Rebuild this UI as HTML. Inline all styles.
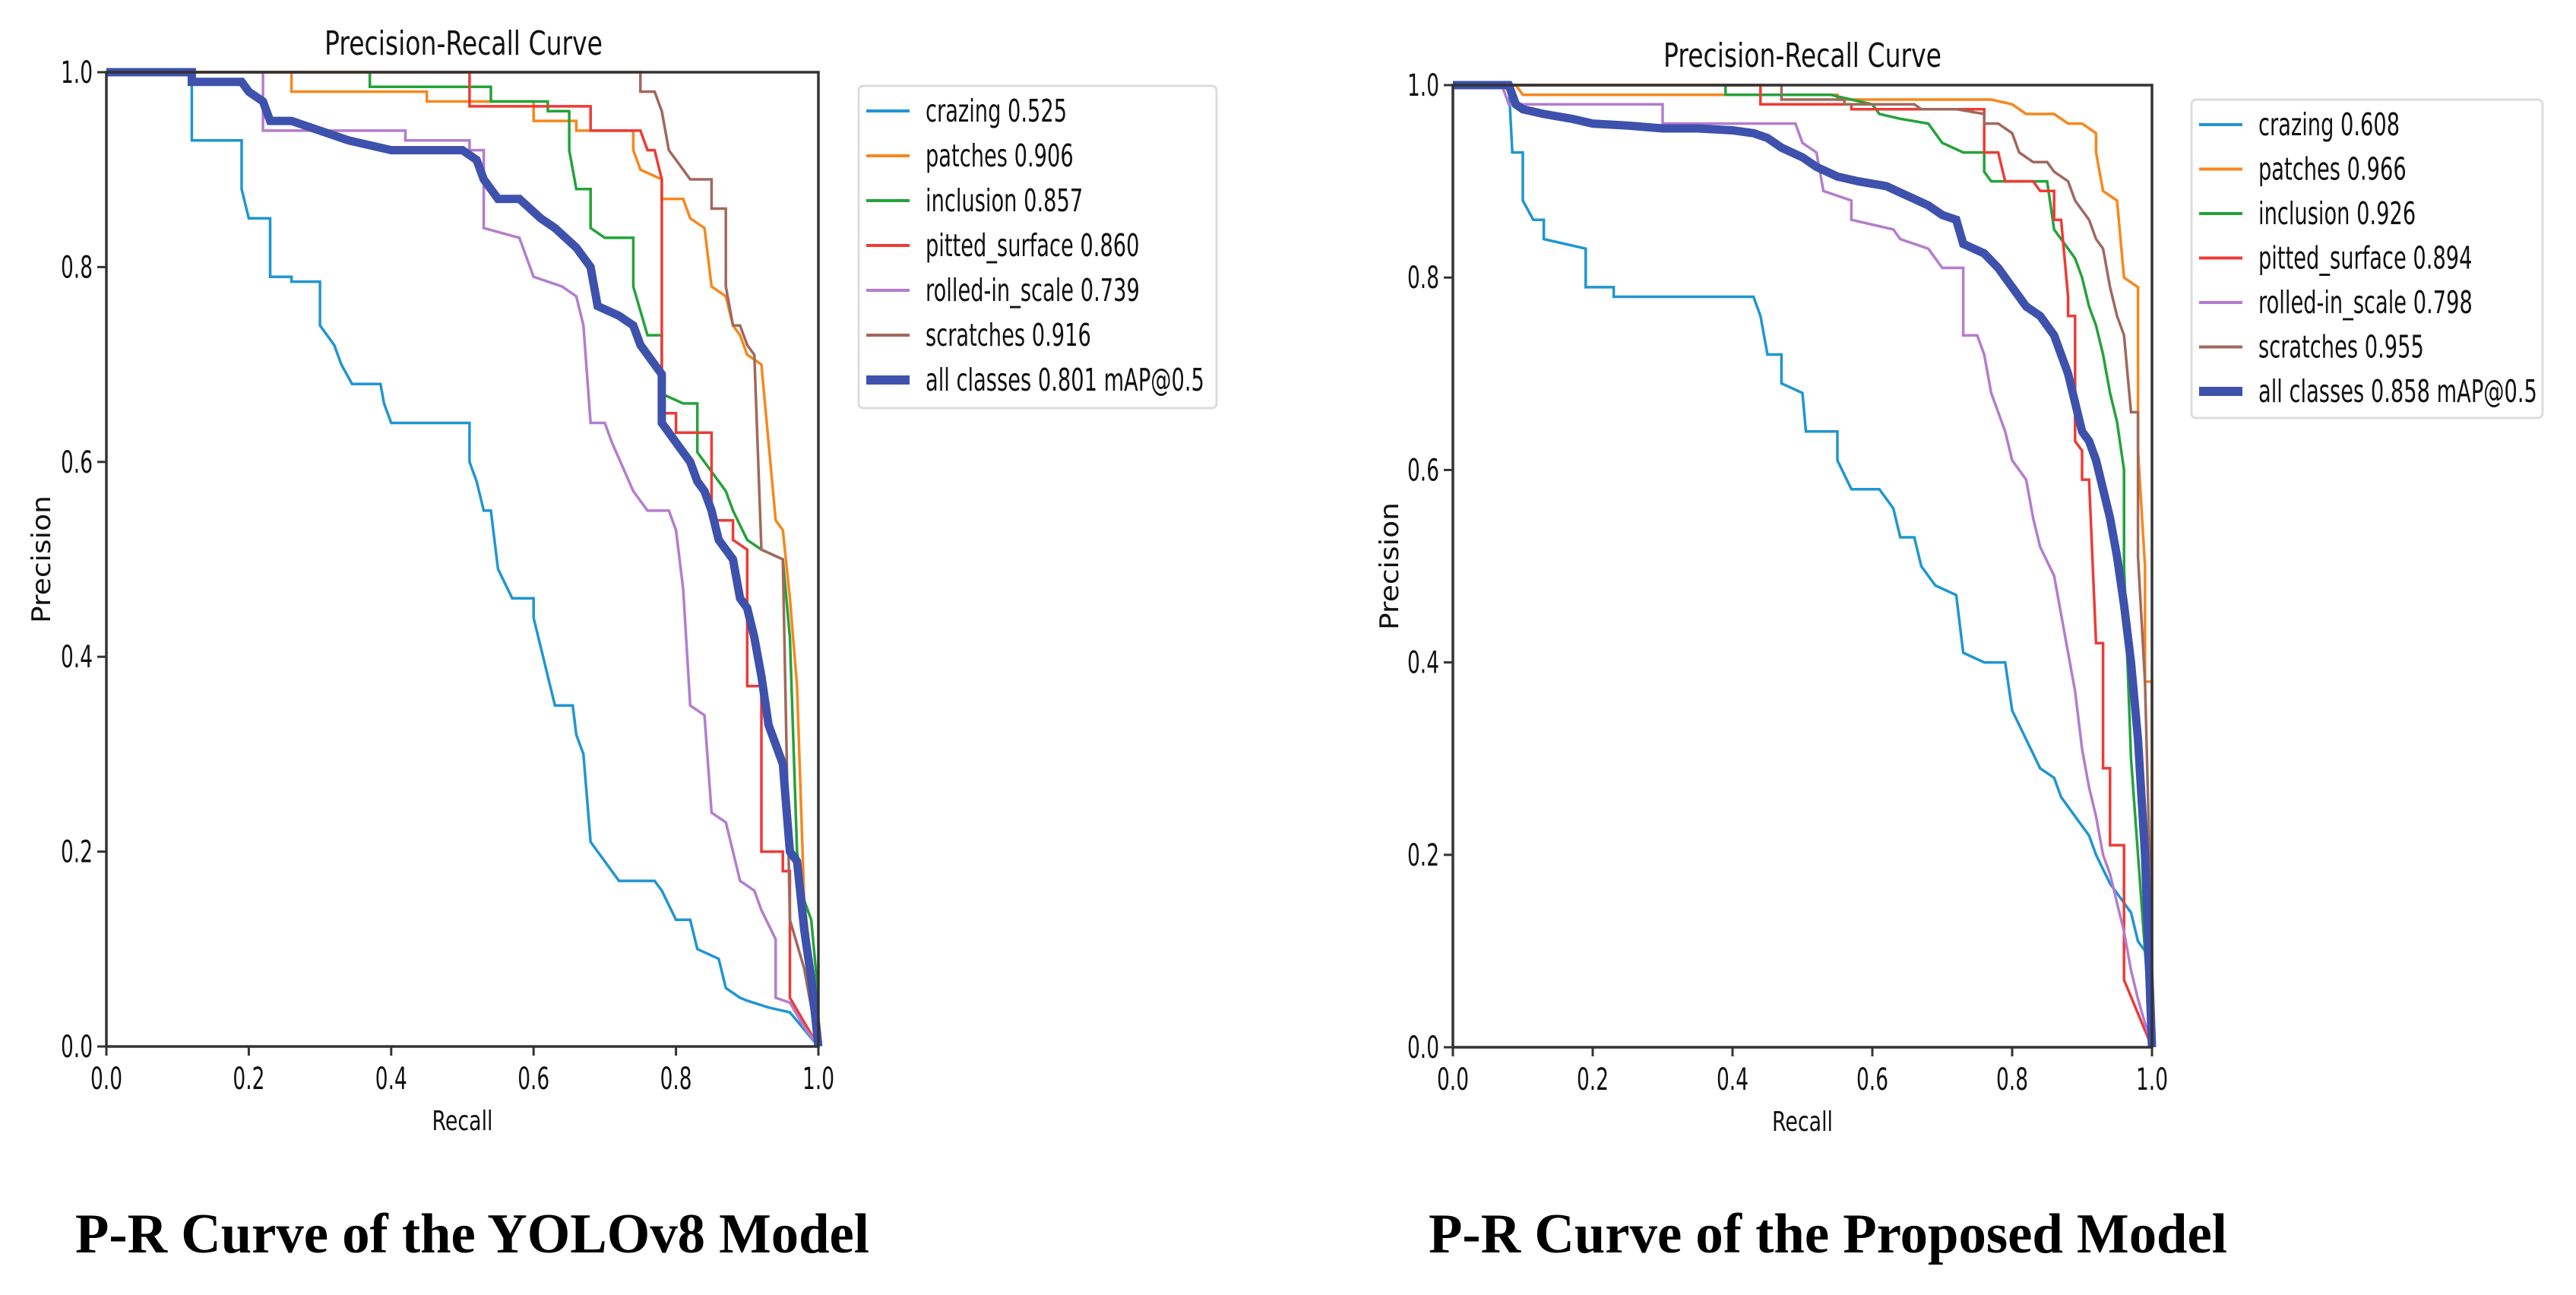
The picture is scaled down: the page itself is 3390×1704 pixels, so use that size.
<!DOCTYPE html>
<html><head><meta charset="utf-8"><style>
html,body{margin:0;padding:0;background:#fff;}
svg{display:block;}
text{font-family:"DejaVu Sans","Liberation Sans",sans-serif;fill:#111;}
.cap{font-family:"Liberation Serif",serif;font-weight:bold;fill:#000;}
</style></head><body>
<svg id="fig" width="3390" height="1704" viewBox="0 0 3390 1704" xmlns="http://www.w3.org/2000/svg">
<rect x="0" y="0" width="3390" height="1704" fill="#fff"/>
<text class="cap" x="99" y="1648" font-size="74" textLength="1045" lengthAdjust="spacingAndGlyphs">P-R Curve of the YOLOv8 Model</text>
<text class="cap" x="1880" y="1648" font-size="74" textLength="1051" lengthAdjust="spacingAndGlyphs">P-R Curve of the Proposed Model</text>
</svg>
<script>
const seriesNames = ["crazing","patches","inclusion","pitted_surface","rolled-in_scale","scratches"];
const leftAP = [0.525,0.906,0.857,0.860,0.739,0.916];
const rightAP = [0.608,0.966,0.926,0.894,0.798,0.955];
const leftMAP = 0.801;
const rightMAP = 0.858;
const tickLabels = ["0.0","0.2","0.4","0.6","0.8","1.0"];
const tickValues = [0,0.2,0.4,0.6,0.8,1.0];

const L_crazing = [[0,1],[0.12,1],[0.12,0.93],[0.19,0.93],[0.19,0.88],[0.2,0.85],[0.23,0.85],[0.23,0.79],[0.26,0.79],[0.26,0.785],[0.3,0.785],[0.3,0.74],[0.32,0.72],[0.33,0.70],[0.345,0.68],[0.385,0.68],[0.39,0.66],[0.4,0.64],[0.51,0.64],[0.51,0.60],[0.52,0.58],[0.53,0.55],[0.54,0.55],[0.55,0.49],[0.57,0.46],[0.6,0.46],[0.6,0.44],[0.62,0.38],[0.63,0.35],[0.655,0.35],[0.66,0.32],[0.67,0.30],[0.68,0.21],[0.69,0.20],[0.7,0.19],[0.72,0.17],[0.77,0.17],[0.78,0.16],[0.8,0.13],[0.82,0.13],[0.83,0.10],[0.86,0.09],[0.87,0.06],[0.89,0.05],[0.9,0.047],[0.93,0.04],[0.96,0.035],[1.0,0]];
const L_patches = [[0,1],[0.26,1],[0.26,0.98],[0.45,0.98],[0.45,0.97],[0.6,0.97],[0.6,0.95],[0.66,0.95],[0.66,0.94],[0.74,0.94],[0.74,0.92],[0.75,0.90],[0.78,0.89],[0.78,0.87],[0.81,0.87],[0.82,0.85],[0.84,0.84],[0.85,0.78],[0.87,0.77],[0.88,0.74],[0.89,0.73],[0.9,0.71],[0.92,0.70],[0.93,0.62],[0.94,0.54],[0.95,0.53],[0.96,0.46],[0.97,0.37],[0.98,0.15],[1.0,0.02]];
const L_inclusion = [[0,1],[0.37,1],[0.37,0.985],[0.54,0.985],[0.54,0.97],[0.62,0.97],[0.62,0.96],[0.65,0.96],[0.65,0.92],[0.66,0.88],[0.68,0.88],[0.68,0.84],[0.7,0.83],[0.74,0.83],[0.74,0.78],[0.76,0.73],[0.78,0.73],[0.78,0.67],[0.81,0.66],[0.83,0.66],[0.83,0.61],[0.85,0.59],[0.87,0.57],[0.88,0.55],[0.9,0.52],[0.92,0.51],[0.95,0.50],[0.96,0.42],[0.97,0.2],[0.98,0.15],[0.99,0.13],[1.0,0.05]];
const L_pitted = [[0,1],[0.51,1],[0.51,0.965],[0.68,0.965],[0.68,0.94],[0.75,0.94],[0.76,0.92],[0.77,0.92],[0.78,0.89],[0.78,0.65],[0.8,0.65],[0.8,0.63],[0.85,0.63],[0.85,0.54],[0.88,0.54],[0.88,0.52],[0.9,0.51],[0.9,0.37],[0.92,0.37],[0.92,0.2],[0.95,0.2],[0.95,0.18],[0.96,0.18],[0.96,0.05],[1.0,0]];
const L_rolled = [[0,1],[0.22,1],[0.22,0.94],[0.42,0.94],[0.42,0.93],[0.51,0.93],[0.51,0.92],[0.53,0.92],[0.53,0.84],[0.58,0.83],[0.6,0.79],[0.64,0.78],[0.66,0.77],[0.67,0.74],[0.68,0.64],[0.7,0.64],[0.71,0.62],[0.74,0.57],[0.76,0.55],[0.79,0.55],[0.8,0.53],[0.81,0.47],[0.82,0.35],[0.84,0.34],[0.85,0.24],[0.87,0.23],[0.88,0.2],[0.89,0.17],[0.91,0.16],[0.92,0.14],[0.94,0.11],[0.94,0.05],[0.96,0.045],[0.98,0.02],[1.0,0]];
const L_scratches = [[0,1],[0.75,1],[0.75,0.98],[0.77,0.98],[0.78,0.96],[0.79,0.92],[0.8,0.91],[0.82,0.89],[0.85,0.89],[0.85,0.86],[0.87,0.86],[0.87,0.78],[0.88,0.74],[0.89,0.74],[0.9,0.72],[0.91,0.71],[0.92,0.51],[0.95,0.5],[0.96,0.13],[0.98,0.08],[1.0,0]];
const L_all = [[0,1],[0.12,1],[0.12,0.99],[0.19,0.99],[0.2,0.98],[0.22,0.97],[0.23,0.95],[0.26,0.95],[0.3,0.94],[0.34,0.93],[0.4,0.92],[0.5,0.92],[0.52,0.91],[0.53,0.89],[0.55,0.87],[0.58,0.87],[0.61,0.85],[0.63,0.84],[0.66,0.82],[0.68,0.80],[0.69,0.76],[0.72,0.75],[0.74,0.74],[0.75,0.72],[0.77,0.70],[0.78,0.69],[0.78,0.64],[0.8,0.62],[0.82,0.60],[0.83,0.58],[0.84,0.57],[0.85,0.55],[0.86,0.52],[0.88,0.50],[0.89,0.46],[0.9,0.45],[0.91,0.42],[0.92,0.38],[0.93,0.33],[0.94,0.31],[0.95,0.29],[0.96,0.2],[0.97,0.19],[0.98,0.12],[0.99,0.07],[1.0,0]];

const R_crazing = [[0,1],[0.08,1],[0.085,0.93],[0.1,0.93],[0.1,0.88],[0.115,0.86],[0.13,0.86],[0.13,0.84],[0.19,0.83],[0.19,0.79],[0.23,0.79],[0.23,0.78],[0.43,0.78],[0.44,0.76],[0.45,0.72],[0.47,0.72],[0.47,0.69],[0.5,0.68],[0.505,0.64],[0.55,0.64],[0.55,0.61],[0.57,0.58],[0.61,0.58],[0.63,0.56],[0.64,0.53],[0.66,0.53],[0.67,0.5],[0.69,0.48],[0.72,0.47],[0.73,0.41],[0.76,0.40],[0.79,0.40],[0.8,0.35],[0.82,0.32],[0.84,0.29],[0.86,0.28],[0.87,0.26],[0.89,0.24],[0.91,0.22],[0.92,0.2],[0.94,0.17],[0.95,0.16],[0.97,0.14],[0.98,0.11],[0.99,0.10],[1.0,0]];
const R_patches = [[0,1],[0.09,1],[0.1,0.99],[0.55,0.99],[0.55,0.985],[0.77,0.985],[0.8,0.98],[0.82,0.97],[0.86,0.97],[0.88,0.96],[0.9,0.96],[0.92,0.95],[0.92,0.93],[0.93,0.89],[0.95,0.88],[0.96,0.8],[0.98,0.79],[0.98,0.62],[0.99,0.5],[0.99,0.38],[1.0,0.38],[1.0,0]];
const R_inclusion = [[0,1],[0.39,1],[0.39,0.99],[0.54,0.99],[0.6,0.98],[0.61,0.97],[0.64,0.965],[0.68,0.96],[0.69,0.95],[0.7,0.94],[0.73,0.93],[0.76,0.93],[0.76,0.91],[0.77,0.90],[0.85,0.9],[0.86,0.85],[0.87,0.84],[0.88,0.83],[0.89,0.82],[0.9,0.8],[0.91,0.77],[0.92,0.75],[0.93,0.72],[0.94,0.68],[0.95,0.65],[0.96,0.6],[0.96,0.5],[0.97,0.3],[0.98,0.2],[0.99,0.1],[1.0,0.05]];
const R_pitted = [[0,1],[0.44,1],[0.44,0.98],[0.57,0.98],[0.57,0.975],[0.76,0.975],[0.76,0.93],[0.78,0.93],[0.79,0.9],[0.83,0.9],[0.84,0.89],[0.86,0.89],[0.86,0.86],[0.87,0.86],[0.88,0.78],[0.88,0.76],[0.89,0.76],[0.89,0.63],[0.9,0.62],[0.9,0.59],[0.91,0.59],[0.92,0.42],[0.93,0.42],[0.93,0.29],[0.94,0.29],[0.94,0.21],[0.96,0.21],[0.96,0.07],[1.0,0]];
const R_rolled = [[0,1],[0.07,1],[0.08,0.98],[0.3,0.98],[0.3,0.96],[0.49,0.96],[0.5,0.94],[0.52,0.93],[0.53,0.89],[0.57,0.88],[0.57,0.86],[0.63,0.85],[0.64,0.84],[0.68,0.83],[0.7,0.81],[0.73,0.81],[0.73,0.74],[0.75,0.74],[0.76,0.72],[0.77,0.68],[0.78,0.66],[0.79,0.64],[0.8,0.61],[0.82,0.59],[0.83,0.55],[0.84,0.52],[0.86,0.49],[0.87,0.45],[0.88,0.41],[0.89,0.37],[0.9,0.31],[0.91,0.27],[0.92,0.24],[0.93,0.2],[0.94,0.18],[0.95,0.15],[0.96,0.12],[0.97,0.08],[0.98,0.05],[1.0,0]];
const R_scratches = [[0,1],[0.47,1],[0.47,0.985],[0.56,0.985],[0.56,0.98],[0.66,0.98],[0.67,0.975],[0.72,0.975],[0.76,0.97],[0.76,0.96],[0.78,0.96],[0.8,0.95],[0.81,0.93],[0.83,0.92],[0.85,0.92],[0.86,0.91],[0.88,0.9],[0.89,0.88],[0.9,0.87],[0.91,0.86],[0.92,0.84],[0.93,0.83],[0.94,0.79],[0.95,0.76],[0.96,0.74],[0.97,0.66],[0.98,0.66],[0.98,0.51],[0.99,0.38],[1.0,0.1],[1.0,0]];
const R_all = [[0,1],[0.08,1],[0.09,0.98],[0.1,0.975],[0.13,0.97],[0.17,0.965],[0.2,0.96],[0.25,0.958],[0.3,0.955],[0.35,0.955],[0.4,0.953],[0.43,0.95],[0.45,0.945],[0.47,0.935],[0.5,0.925],[0.52,0.915],[0.55,0.905],[0.58,0.9],[0.62,0.895],[0.65,0.885],[0.68,0.875],[0.7,0.865],[0.72,0.86],[0.73,0.835],[0.76,0.825],[0.78,0.81],[0.8,0.79],[0.82,0.77],[0.84,0.76],[0.86,0.74],[0.87,0.72],[0.88,0.7],[0.89,0.67],[0.9,0.64],[0.91,0.63],[0.92,0.61],[0.93,0.58],[0.94,0.55],[0.95,0.51],[0.96,0.46],[0.97,0.40],[0.98,0.32],[0.99,0.2],[1.0,0]];

const colors = ["#1f96d2","#f7871d","#23a33a","#ee3b36","#b47ccd","#a1685c"];
const allColor = "#3d51ad";
const NS = "http://www.w3.org/2000/svg";
const svg = document.getElementById('fig');

function mk(tag, attrs, parent){
  const e = document.createElementNS(NS, tag);
  for (const k in attrs) e.setAttribute(k, attrs[k]);
  (parent||svg).appendChild(e);
  return e;
}
function txt(parent, s, attrs, ratio, fixedLen){
  const t = mk('text', attrs, parent);
  t.textContent = s;
  const w = fixedLen || t.getComputedTextLength() * ratio;
  t.setAttribute('textLength', w.toFixed(1));
  t.setAttribute('lengthAdjust', 'spacingAndGlyphs');
  return t;
}

function drawPanel(cfg){
  const g = mk('g', {});
  
  
  const xs = v => cfg.x0 + v * (cfg.x1 - cfg.x0);
  const ys = v => cfg.y0 - v * (cfg.y0 - cfg.y1);
  // series
  cfg.series.forEach((pts, i) => {
    const p = mk('polyline', {points: pts.map(d => xs(d[0]).toFixed(1)+','+ys(d[1]).toFixed(1)).join(' '), fill:'none', stroke: colors[i], 'stroke-width': 3.5, 'stroke-linejoin':'miter'}, g);
    
    
  });
  const pa = mk('polyline', {points: cfg.all.map(d => xs(d[0]).toFixed(1)+','+ys(d[1]).toFixed(1)).join(' '), fill:'none', stroke: allColor, 'stroke-width': 11, 'stroke-linejoin':'miter'}, g);
  
  
  // frame
  const fr = mk('rect', {x: cfg.x0, y: cfg.y1, width: cfg.x1-cfg.x0, height: cfg.y0-cfg.y1, fill:'none', stroke:'#333', 'stroke-width': 3.5}, g);
  
  
  // ticks
  tickValues.forEach((v, i) => {
    mk('line', {x1: xs(v), x2: xs(v), y1: cfg.y0, y2: cfg.y0+12, stroke:'#333', 'stroke-width':3}, g);
    const tx = txt(g, tickLabels[i], {x: xs(v), y: cfg.y0+56, 'font-size': 40, 'text-anchor':'middle'}, 0.66);
    
    
    mk('line', {x1: cfg.x0-12, x2: cfg.x0, y1: ys(v), y2: ys(v), stroke:'#333', 'stroke-width':3}, g);
    const ty = txt(g, tickLabels[i], {x: cfg.x0-18, y: ys(v)+14, 'font-size': 40, 'text-anchor':'end'}, 0.66);
    
    
  });
  const tt = txt(g, 'Precision-Recall Curve', {x: cfg.titleX, y: cfg.titleY, 'font-size': 44, 'text-anchor':'middle'}, 0, 366);
  
  
  const xl = txt(g, 'Recall', {x: (cfg.x0+cfg.x1)/2, y: cfg.y0+110, 'font-size': 36, 'text-anchor':'middle'}, 0, 80);
  
  
  const yc = (cfg.y0+cfg.y1)/2;
  const yl = txt(g, 'Precision', {x: cfg.ylabX, y: yc, 'font-size': 34, 'text-anchor':'middle', transform:'rotate(-90 '+cfg.ylabX+' '+yc+')'}, 0, 168);
  
  
  // legend
  const lg = mk('g', {}, g);
  
  
  mk('rect', {x: cfg.lx, y: cfg.ly, width: cfg.lw, height: cfg.lh, rx: 6, fill:'#fff', stroke:'#dcdcdc', 'stroke-width':3}, lg);
  const labels = seriesNames.map((n, i) => n + ' ' + cfg.ap[i].toFixed(3));
  labels.push('all classes ' + cfg.map.toFixed(3) + ' mAP@0.5');
  labels.forEach((s, i) => {
    const yy = cfg.ly + 33 + i * cfg.rowH;
    const ent = mk('g', {}, lg);
    
    
    mk('line', {x1: cfg.lx+10, x2: cfg.lx+67, y1: yy, y2: yy, stroke: i < 6 ? colors[i] : allColor, 'stroke-width': i < 6 ? 4 : 12}, ent);
    txt(ent, s, {x: cfg.lx+88, y: yy+14, 'font-size': 41}, 0.665);
  });
}

drawPanel({name:'left-chart', x0:140, x1:1077, y0:1377, y1:95, titleX:610, titleY:72, ylabX:66,
  lx:1130, ly:113, lw:471, lh:424, rowH:59, ap:leftAP, map:leftMAP,
  series:[L_crazing,L_patches,L_inclusion,L_pitted,L_rolled,L_scratches], all:L_all});
drawPanel({name:'right-chart', x0:1912, x1:2832, y0:1378, y1:112, titleX:2372, titleY:88, ylabX:1840,
  lx:2884, ly:131, lw:462, lh:419, rowH:58.5, ap:rightAP, map:rightMAP,
  series:[R_crazing,R_patches,R_inclusion,R_pitted,R_rolled,R_scratches], all:R_all});
</script>
</body></html>
